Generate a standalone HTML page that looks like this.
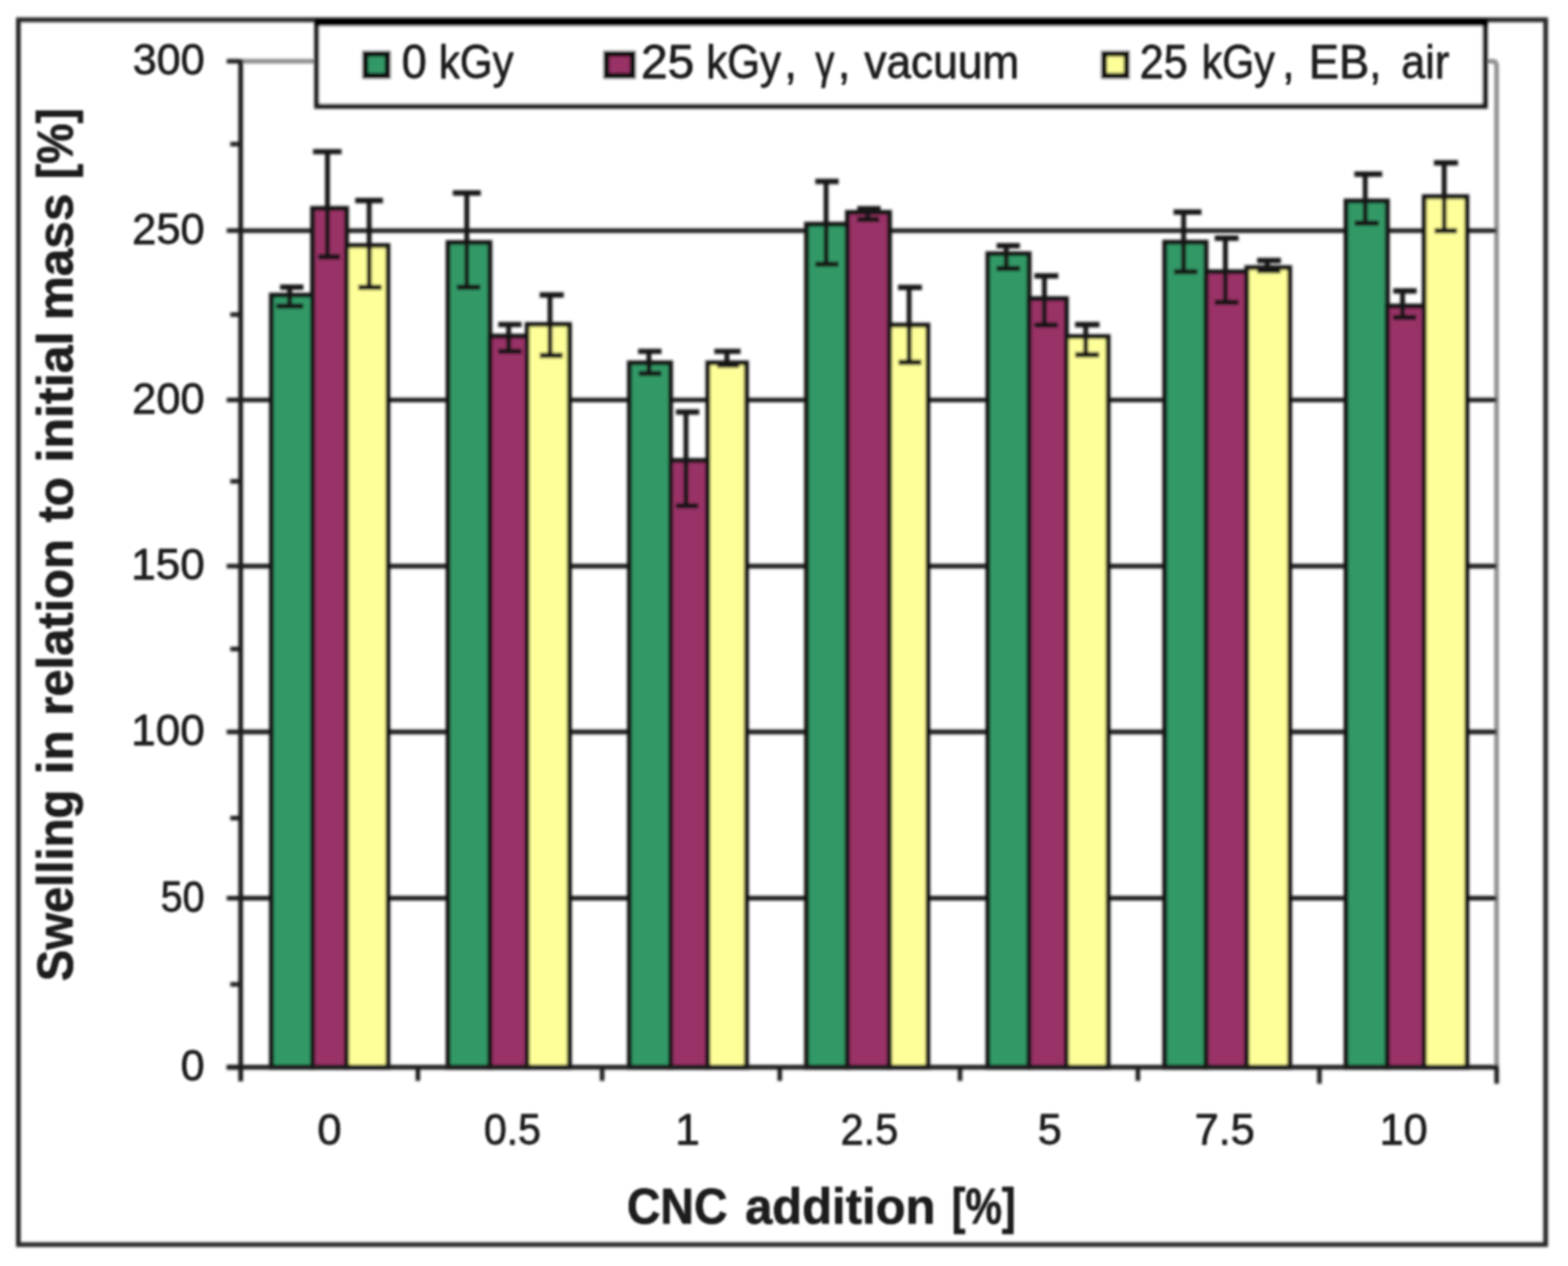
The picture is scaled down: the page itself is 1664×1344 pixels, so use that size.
<!DOCTYPE html>
<html lang="en"><head><meta charset="utf-8"><title>Swelling in relation to initial mass vs CNC addition</title>
<style>html,body{margin:0;padding:0;background:#fff;}body{width:1664px;height:1344px;overflow:hidden;}svg{display:block;}text{font-family:"Liberation Sans","DejaVu Sans",sans-serif;fill:#1c1c1c;stroke:#1c1c1c;stroke-width:0.8px;stroke-linejoin:round;white-space:pre;}text.b{stroke-width:0.7px;}</style></head><body>
<svg width="1664" height="1344" viewBox="0 0 1664 1344">
<defs><filter id="b" filterUnits="userSpaceOnUse" x="0" y="0" width="1664" height="1344"><feGaussianBlur stdDeviation="1.4"/></filter><filter id="bt" filterUnits="userSpaceOnUse" x="0" y="0" width="1664" height="1344"><feGaussianBlur stdDeviation="1"/></filter></defs>
<rect width="1664" height="1344" fill="#fff"/>
<g filter="url(#b)">
<rect x="19.5" y="21" width="1620.8" height="1300.3" fill="none" stroke="#262626" stroke-width="5"/>
<path d="M255.4 65 H1583.7 Q1588.2 65 1588.2 69.5 V1133.0" fill="none" stroke="#909090" stroke-width="5"/>
<line x1="255.4" y1="244.8" x2="1588.2" y2="244.8" stroke="#1c1c1c" stroke-width="4.8"/>
<line x1="255.4" y1="424.6" x2="1588.2" y2="424.6" stroke="#1c1c1c" stroke-width="4.8"/>
<line x1="255.4" y1="601.0" x2="1588.2" y2="601.0" stroke="#1c1c1c" stroke-width="4.8"/>
<line x1="255.4" y1="777.0" x2="1588.2" y2="777.0" stroke="#1c1c1c" stroke-width="4.8"/>
<line x1="255.4" y1="953.5" x2="1588.2" y2="953.5" stroke="#1c1c1c" stroke-width="4.8"/>
<rect x="288.0" y="313.3" width="43.7" height="819.7" fill="#339966" stroke="#151515" stroke-width="5.2"/>
<rect x="331.7" y="221.2" width="36.1" height="911.8" fill="#993366" stroke="#151515" stroke-width="5.2"/>
<rect x="367.8" y="260.7" width="43.9" height="872.3" fill="#ffff99" stroke="#151515" stroke-width="5.2"/>
<rect x="475.5" y="257.5" width="44.4" height="875.5" fill="#339966" stroke="#151515" stroke-width="5.2"/>
<rect x="519.9" y="356.8" width="39.6" height="776.2" fill="#993366" stroke="#151515" stroke-width="5.2"/>
<rect x="559.5" y="344.5" width="44.8" height="788.5" fill="#ffff99" stroke="#151515" stroke-width="5.2"/>
<rect x="667.9" y="385.2" width="43.7" height="747.8" fill="#339966" stroke="#151515" stroke-width="5.2"/>
<rect x="711.6" y="488.8" width="39.6" height="644.2" fill="#993366" stroke="#151515" stroke-width="5.2"/>
<rect x="751.2" y="385.2" width="41.0" height="747.8" fill="#ffff99" stroke="#151515" stroke-width="5.2"/>
<rect x="855.9" y="238.0" width="43.4" height="895.0" fill="#339966" stroke="#151515" stroke-width="5.2"/>
<rect x="899.3" y="225.5" width="44.7" height="907.5" fill="#993366" stroke="#151515" stroke-width="5.2"/>
<rect x="944.0" y="345.1" width="40.7" height="787.9" fill="#ffff99" stroke="#151515" stroke-width="5.2"/>
<rect x="1048.4" y="269.4" width="43.7" height="863.6" fill="#339966" stroke="#151515" stroke-width="5.2"/>
<rect x="1092.1" y="317.0" width="39.6" height="816.0" fill="#993366" stroke="#151515" stroke-width="5.2"/>
<rect x="1131.7" y="357.3" width="44.3" height="775.7" fill="#ffff99" stroke="#151515" stroke-width="5.2"/>
<rect x="1236.0" y="257.1" width="43.9" height="875.9" fill="#339966" stroke="#151515" stroke-width="5.2"/>
<rect x="1279.9" y="288.5" width="43.3" height="844.5" fill="#993366" stroke="#151515" stroke-width="5.2"/>
<rect x="1323.2" y="284.1" width="45.4" height="848.9" fill="#ffff99" stroke="#151515" stroke-width="5.2"/>
<rect x="1428.5" y="213.4" width="43.8" height="919.6" fill="#339966" stroke="#151515" stroke-width="5.2"/>
<rect x="1472.3" y="324.9" width="39.2" height="808.1" fill="#993366" stroke="#151515" stroke-width="5.2"/>
<rect x="1511.5" y="208.8" width="45.2" height="924.2" fill="#ffff99" stroke="#151515" stroke-width="5.2"/>
<line x1="255.4" y1="63" x2="255.4" y2="1148.0" stroke="#1a1a1a" stroke-width="5.0"/>
<line x1="240.6" y1="1133.0" x2="1590.2" y2="1133.0" stroke="#1a1a1a" stroke-width="5.0"/>
<line x1="240.6" y1="65.0" x2="255.4" y2="65.0" stroke="#1a1a1a" stroke-width="4.8"/>
<line x1="240.6" y1="244.8" x2="255.4" y2="244.8" stroke="#1a1a1a" stroke-width="4.8"/>
<line x1="240.6" y1="424.6" x2="255.4" y2="424.6" stroke="#1a1a1a" stroke-width="4.8"/>
<line x1="240.6" y1="601.0" x2="255.4" y2="601.0" stroke="#1a1a1a" stroke-width="4.8"/>
<line x1="240.6" y1="777.0" x2="255.4" y2="777.0" stroke="#1a1a1a" stroke-width="4.8"/>
<line x1="240.6" y1="953.5" x2="255.4" y2="953.5" stroke="#1a1a1a" stroke-width="4.8"/>
<line x1="240.6" y1="1133.0" x2="255.4" y2="1133.0" stroke="#1a1a1a" stroke-width="4.8"/>
<line x1="244.4" y1="153.0" x2="255.4" y2="153.0" stroke="#1a1a1a" stroke-width="4.8"/>
<line x1="244.4" y1="334.0" x2="255.4" y2="334.0" stroke="#1a1a1a" stroke-width="4.8"/>
<line x1="244.4" y1="511.0" x2="255.4" y2="511.0" stroke="#1a1a1a" stroke-width="4.8"/>
<line x1="244.4" y1="689.0" x2="255.4" y2="689.0" stroke="#1a1a1a" stroke-width="4.8"/>
<line x1="244.4" y1="868.5" x2="255.4" y2="868.5" stroke="#1a1a1a" stroke-width="4.8"/>
<line x1="244.4" y1="1045.0" x2="255.4" y2="1045.0" stroke="#1a1a1a" stroke-width="4.8"/>
<line x1="255.4" y1="1133.0" x2="255.4" y2="1147.5" stroke="#1a1a1a" stroke-width="4.8"/>
<line x1="443.5" y1="1133.0" x2="443.5" y2="1147.5" stroke="#1a1a1a" stroke-width="4.8"/>
<line x1="639.0" y1="1133.0" x2="639.0" y2="1147.5" stroke="#1a1a1a" stroke-width="4.8"/>
<line x1="827.5" y1="1133.0" x2="827.5" y2="1147.5" stroke="#1a1a1a" stroke-width="4.8"/>
<line x1="1018.8" y1="1133.0" x2="1018.8" y2="1147.5" stroke="#1a1a1a" stroke-width="4.8"/>
<line x1="1207.6" y1="1133.0" x2="1207.6" y2="1147.5" stroke="#1a1a1a" stroke-width="4.8"/>
<line x1="1400.2" y1="1133.0" x2="1400.2" y2="1150.5" stroke="#1a1a1a" stroke-width="4.8"/>
<line x1="1588.3" y1="1133.0" x2="1588.3" y2="1150.5" stroke="#1a1a1a" stroke-width="4.8"/>
<path d="M307.4 304.9 V325.0" fill="none" stroke="#151515" stroke-width="5.2"/>
<path d="M297.2 304.9 H322.0 M293.3 325.0 H322.0" fill="none" stroke="#151515" stroke-width="5.7"/>
<path d="M347.5 161.0 V272.6" fill="none" stroke="#151515" stroke-width="5.2"/>
<path d="M332.2 161.0 H362.5 M337.7 272.6 H360.9" fill="none" stroke="#151515" stroke-width="5.7"/>
<path d="M391.8 212.9 V305.1" fill="none" stroke="#151515" stroke-width="5.2"/>
<path d="M377.0 212.9 H406.4 M380.3 305.1 H405.1" fill="none" stroke="#151515" stroke-width="5.7"/>
<path d="M495.4 204.9 V304.9" fill="none" stroke="#151515" stroke-width="5.2"/>
<path d="M480.5 204.9 H510.2 M484.8 304.9 H509.6" fill="none" stroke="#151515" stroke-width="5.7"/>
<path d="M539.8 344.5 V373.0" fill="none" stroke="#151515" stroke-width="5.2"/>
<path d="M528.7 344.5 H553.5 M528.7 373.0 H553.5" fill="none" stroke="#151515" stroke-width="5.7"/>
<path d="M583.7 313.1 V377.3" fill="none" stroke="#151515" stroke-width="5.2"/>
<path d="M572.8 313.1 H598.3 M572.8 377.3 H597.2" fill="none" stroke="#151515" stroke-width="5.7"/>
<path d="M688.7 373.0 V396.5" fill="none" stroke="#151515" stroke-width="5.2"/>
<path d="M677.2 373.0 H702.0 M677.8 396.5 H702.0" fill="none" stroke="#151515" stroke-width="5.7"/>
<path d="M728.0 437.3 V537.0" fill="none" stroke="#151515" stroke-width="5.2"/>
<path d="M717.3 437.3 H742.1 M717.3 537.0 H741.2" fill="none" stroke="#151515" stroke-width="5.7"/>
<path d="M771.4 373.0 V387.6" fill="none" stroke="#151515" stroke-width="5.2"/>
<path d="M758.1 373.0 H785.9 M761.1 387.6 H784.4" fill="none" stroke="#151515" stroke-width="5.7"/>
<path d="M876.7 192.7 V280.5" fill="none" stroke="#151515" stroke-width="5.2"/>
<path d="M865.2 192.7 H890.0 M865.2 280.5 H890.0" fill="none" stroke="#151515" stroke-width="5.7"/>
<path d="M920.8 221.6 V232.9" fill="none" stroke="#151515" stroke-width="5.2"/>
<path d="M909.8 221.6 H934.6 M909.8 232.9 H933.1" fill="none" stroke="#151515" stroke-width="5.7"/>
<path d="M964.8 305.2 V384.6" fill="none" stroke="#151515" stroke-width="5.2"/>
<path d="M953.0 305.2 H978.4 M953.6 384.6 H977.8" fill="none" stroke="#151515" stroke-width="5.7"/>
<path d="M1067.9 260.8 V285.2" fill="none" stroke="#151515" stroke-width="5.2"/>
<path d="M1057.6 260.8 H1082.4 M1057.6 285.2 H1082.4" fill="none" stroke="#151515" stroke-width="5.7"/>
<path d="M1108.3 292.8 V345.2" fill="none" stroke="#151515" stroke-width="5.2"/>
<path d="M1097.7 292.8 H1123.1 M1097.7 345.2 H1122.5" fill="none" stroke="#151515" stroke-width="5.7"/>
<path d="M1152.2 344.7 V376.7" fill="none" stroke="#151515" stroke-width="5.2"/>
<path d="M1140.9 344.7 H1166.8 M1140.9 376.7 H1166.4" fill="none" stroke="#151515" stroke-width="5.7"/>
<path d="M1256.1 225.1 V288.5" fill="none" stroke="#151515" stroke-width="5.2"/>
<path d="M1245.4 225.1 H1275.0 M1245.9 288.5 H1270.7" fill="none" stroke="#151515" stroke-width="5.7"/>
<path d="M1300.4 252.8 V320.9" fill="none" stroke="#151515" stroke-width="5.2"/>
<path d="M1289.1 252.8 H1314.4 M1289.1 320.9 H1314.4" fill="none" stroke="#151515" stroke-width="5.7"/>
<path d="M1344.8 276.6 V287.4" fill="none" stroke="#151515" stroke-width="5.2"/>
<path d="M1334.1 276.6 H1359.4 M1334.1 287.4 H1358.9" fill="none" stroke="#151515" stroke-width="5.7"/>
<path d="M1448.8 184.9 V236.9" fill="none" stroke="#151515" stroke-width="5.2"/>
<path d="M1437.3 184.9 H1466.8 M1437.7 236.9 H1463.2" fill="none" stroke="#151515" stroke-width="5.7"/>
<path d="M1488.4 308.8 V337.0" fill="none" stroke="#151515" stroke-width="5.2"/>
<path d="M1478.5 308.8 H1503.4 M1478.5 337.0 H1503.0" fill="none" stroke="#151515" stroke-width="5.7"/>
<path d="M1532.6 172.8 V244.9" fill="none" stroke="#151515" stroke-width="5.2"/>
<path d="M1521.7 172.8 H1547.2 M1522.5 244.9 H1546.2" fill="none" stroke="#151515" stroke-width="5.7"/>
<rect x="336.2" y="25" width="1239.8" height="87.7" fill="#fff" stroke="#1a1a1a" stroke-width="5.6"/>
<rect x="334" y="19.5" width="1245" height="7.5" fill="#050505"/>
<rect x="387.6" y="57.0" width="23.8" height="23.6" fill="#339966" stroke="#101010" stroke-width="6.3"/>
<rect x="643.4" y="57.0" width="28.2" height="23.6" fill="#993366" stroke="#101010" stroke-width="6.3"/>
<rect x="1171.6" y="57.0" width="24.2" height="23.6" fill="#ffff99" stroke="#101010" stroke-width="6.3"/>
</g>
<g filter="url(#bt)">
<text y="83.00" font-size="49.5"><tspan x="426.13" textLength="26.64" lengthAdjust="spacingAndGlyphs">0</tspan> <tspan x="465.80" textLength="79.08" lengthAdjust="spacingAndGlyphs">kGy</tspan></text>
<text y="83.00" font-size="49.5"><tspan x="680.24" textLength="56.60" lengthAdjust="spacingAndGlyphs">25</tspan> <tspan x="749.50" textLength="79.19" lengthAdjust="spacingAndGlyphs">kGy</tspan><tspan x="832.47" textLength="13.07" lengthAdjust="spacingAndGlyphs">,</tspan> <tspan x="865.25" textLength="20.29" lengthAdjust="spacingAndGlyphs">γ</tspan><tspan x="889.27" textLength="13.07" lengthAdjust="spacingAndGlyphs">,</tspan> <tspan x="917.24" textLength="164.46" lengthAdjust="spacingAndGlyphs">vacuum</tspan></text>
<text y="83.00" font-size="49.5"><tspan x="1209.60" textLength="50.82" lengthAdjust="spacingAndGlyphs">25</tspan> <tspan x="1275.15" textLength="77.84" lengthAdjust="spacingAndGlyphs">kGy</tspan><tspan x="1360.77" textLength="13.07" lengthAdjust="spacingAndGlyphs">,</tspan> <tspan x="1389.06" textLength="64.07" lengthAdjust="spacingAndGlyphs">EB</tspan><tspan x="1453.07" textLength="13.07" lengthAdjust="spacingAndGlyphs">,</tspan> <tspan x="1487.05" textLength="50.91" lengthAdjust="spacingAndGlyphs">air</tspan></text>
<text y="79.30" font-size="47"><tspan x="140.86" textLength="76.33" lengthAdjust="spacingAndGlyphs">300</tspan></text>
<text y="259.10" font-size="47"><tspan x="140.28" textLength="76.92" lengthAdjust="spacingAndGlyphs">250</tspan></text>
<text y="438.90" font-size="47"><tspan x="140.28" textLength="76.92" lengthAdjust="spacingAndGlyphs">200</tspan></text>
<text y="615.30" font-size="47"><tspan x="139.29" textLength="77.93" lengthAdjust="spacingAndGlyphs">150</tspan></text>
<text y="791.30" font-size="47"><tspan x="139.29" textLength="77.93" lengthAdjust="spacingAndGlyphs">100</tspan></text>
<text y="967.80" font-size="47"><tspan x="170.42" textLength="46.62" lengthAdjust="spacingAndGlyphs">50</tspan></text>
<text y="1147.30" font-size="47"><tspan x="191.82" textLength="25.36" lengthAdjust="spacingAndGlyphs">0</tspan></text>
<text y="1214.60" font-size="47"><tspan x="336.79" textLength="25.83" lengthAdjust="spacingAndGlyphs">0</tspan></text>
<text y="1214.60" font-size="47"><tspan x="513.39" textLength="60.74" lengthAdjust="spacingAndGlyphs">0.5</tspan></text>
<text y="1214.60" font-size="47"><tspan x="716.48" textLength="26.14" lengthAdjust="spacingAndGlyphs">1</tspan></text>
<text y="1214.60" font-size="47"><tspan x="891.98" textLength="61.27" lengthAdjust="spacingAndGlyphs">2.5</tspan></text>
<text y="1214.60" font-size="47"><tspan x="1101.16" textLength="25.57" lengthAdjust="spacingAndGlyphs">5</tspan></text>
<text y="1214.60" font-size="47"><tspan x="1267.74" textLength="63.99" lengthAdjust="spacingAndGlyphs">7.5</tspan></text>
<text y="1214.60" font-size="47"><tspan x="1463.90" textLength="51.10" lengthAdjust="spacingAndGlyphs">10</tspan></text>
<text y="1298.50" font-size="54" class="b" font-weight="bold"><tspan x="665.18" textLength="106.87" lengthAdjust="spacingAndGlyphs">CNC</tspan> <tspan x="790.68" textLength="201.94" lengthAdjust="spacingAndGlyphs">addition</tspan> <tspan x="1010.05" textLength="67.80" lengthAdjust="spacingAndGlyphs">[%]</tspan></text>
<text transform="rotate(-90)" y="77.40" font-size="54" class="b" font-weight="bold"><tspan x="-1041.85" textLength="203.60" lengthAdjust="spacingAndGlyphs">Swelling</tspan> <tspan x="-822.07" textLength="46.73" lengthAdjust="spacingAndGlyphs">in</tspan> <tspan x="-759.82" textLength="187.44" lengthAdjust="spacingAndGlyphs">relation</tspan> <tspan x="-554.52" textLength="47.90" lengthAdjust="spacingAndGlyphs">to</tspan> <tspan x="-491.12" textLength="139.30" lengthAdjust="spacingAndGlyphs">initial</tspan> <tspan x="-339.86" textLength="134.42" lengthAdjust="spacingAndGlyphs">mass</tspan> <tspan x="-190.12" textLength="75.23" lengthAdjust="spacingAndGlyphs">[%]</tspan></text>
</g>
</svg></body></html>
